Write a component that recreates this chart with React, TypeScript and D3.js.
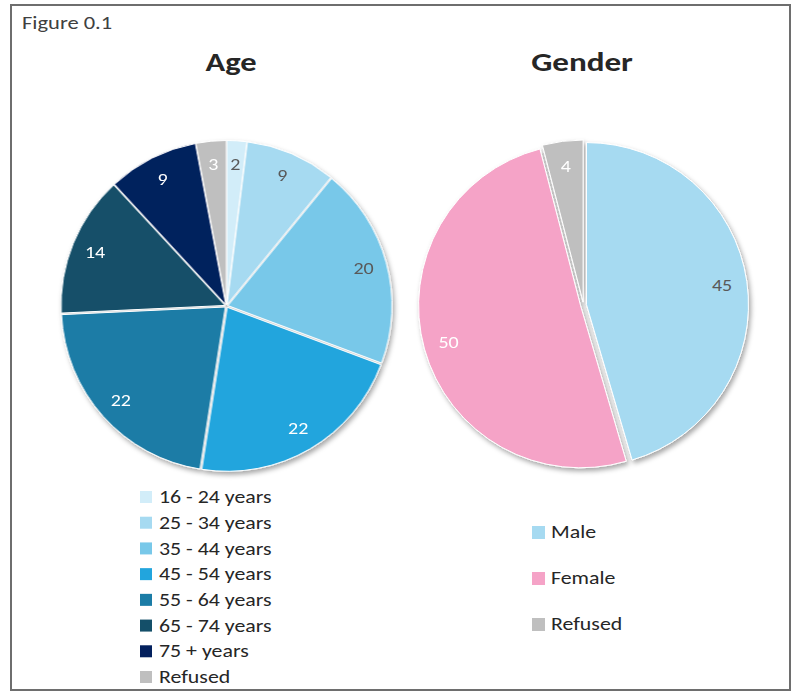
import React from "react";
import * as d3 from "d3";

const ageCategories = ["16 - 24 years", "25 - 34 years", "35 - 44 years", "45 - 54 years", "55 - 64 years", "65 - 74 years", "75 + years", "Refused"];
const ageValues = [2, 9, 20, 22, 22, 14, 9, 3];
const ageColors = ["#d2edf9", "#a6daf1", "#78c8e9", "#22a5dd", "#1b7ca6", "#144f69", "#03205d", "#bfbfbf"];
const ageLabelColors = ["#595959", "#595959", "#595959", "#ffffff", "#ffffff", "#ffffff", "#ffffff", "#ffffff"];

const genderCategories = ["Male", "Female", "Refused"];
const genderValues = [45, 50, 4];
const genderColors = ["#a6daf1", "#f5a3c7", "#bfbfbf"];
const genderLabelColors = ["#595959", "#ffffff", "#ffffff"];

const FONT = "Carlito, Lato, 'Open Sans', sans-serif";
const SX = 1.25;

type TProps = {
  x: number; y: number; size: number; fill: string; anchor?: string; bold?: boolean;
  sx?: number; children: React.ReactNode;
};
function T({ x, y, size, fill, anchor = "start", bold = false, sx = SX, children }: TProps) {
  return (
    <text transform={`translate(${x},${y}) scale(${sx},1)`} dy="0.35em" textAnchor={anchor}
      fontFamily={FONT} fontSize={size} fontWeight={bold ? "bold" : "normal"} fill={fill}>
      {children}
    </text>
  );
}

type PieProps = {
  cx: number; cy: number; r: number; explode: number; labelR: number;
  values: number[]; colors: string[]; labelColors: string[];
};

function Pie({ cx, cy, r, explode, labelR, values, colors, labelColors }: PieProps) {
  const pie = d3.pie<number>().sort(null).value((d) => d).startAngle(0).endAngle(2 * Math.PI);
  const arcs = pie(values);
  const arc = d3.arc<d3.PieArcDatum<number>>().innerRadius(0).outerRadius(r);
  return (
    <g transform={`translate(${cx},${cy})`}>
      <g filter="url(#shadow)">
        {arcs.map((a, i) => {
          const mid = (a.startAngle + a.endAngle) / 2;
          const dx = Math.sin(mid) * explode;
          const dy = -Math.cos(mid) * explode;
          return (
            <path key={i} d={arc(a) || ""} transform={`translate(${dx},${dy})`}
              fill={colors[i]} stroke="#ffffff" strokeWidth={1} />
          );
        })}
      </g>
      {arcs.map((a, i) => {
        const mid = (a.startAngle + a.endAngle) / 2;
        const x = Math.sin(mid) * labelR;
        const y = -Math.cos(mid) * labelR;
        return (
          <T key={i} x={x} y={y} size={16} anchor="middle" fill={labelColors[i]}>{values[i]}</T>
        );
      })}
    </g>
  );
}

export default function App() {
  const ageRow = d3.scaleLinear().domain([0, 7]).range([497, 677]);
  const genderRow = d3.scaleLinear().domain([0, 2]).range([532, 624]);
  return (
    <svg width={792} height={691} style={{ position: "absolute", left: 0, top: 0 }}>
      <defs>
        <filter id="shadow" x="-20%" y="-20%" width="140%" height="140%">
          <feDropShadow dx="2" dy="3" stdDeviation="2.5" floodColor="#000" floodOpacity="0.35" />
        </filter>
      </defs>
      <rect x={0} y={0} width={792} height={691} fill="#ffffff" />
      <rect x={11} y={5} width={779} height={685} fill="#ffffff" stroke="#6e6e6e" strokeWidth={2} />
      <T x={22} y={23} size={18} fill="#404040">Figure 0.1</T>
      <T x={231} y={62} size={26} bold anchor="middle" fill="#262626">Age</T>
      <T x={582} y={62} size={26.5} bold anchor="middle" fill="#262626">Gender</T>

      <Pie cx={226.5} cy={306} r={164} explode={1.5} labelR={142}
        values={ageValues} colors={ageColors} labelColors={ageLabelColors} />
      <Pie cx={583.5} cy={305} r={162} explode={3} labelR={140}
        values={genderValues} colors={genderColors} labelColors={genderLabelColors} />

      {ageCategories.map((c, i) => (
        <g key={c}>
          <rect x={140} y={ageRow(i) - 6} width={12} height={12} fill={ageColors[i]} />
          <T x={159} y={ageRow(i)} size={17.5} fill="#262626">{c}</T>
        </g>
      ))}
      {genderCategories.map((c, i) => (
        <g key={c}>
          <rect x={532} y={genderRow(i) - 6} width={13} height={13} fill={genderColors[i]} />
          <T x={551} y={genderRow(i)} size={17.5} fill="#262626">{c}</T>
        </g>
      ))}
    </svg>
  );
}
